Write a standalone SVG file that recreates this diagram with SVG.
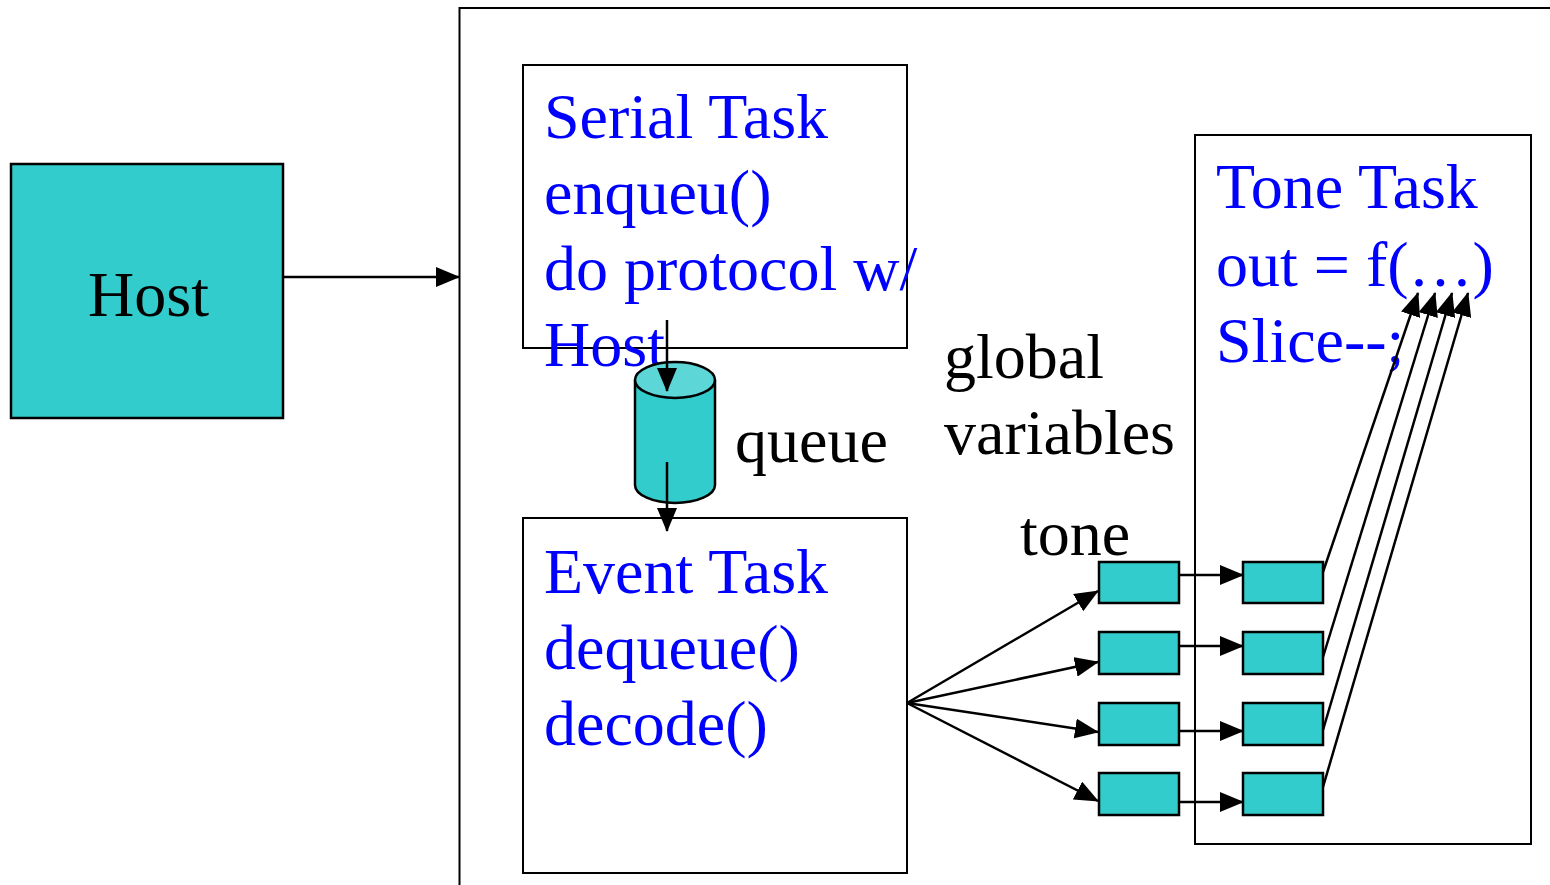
<svg xmlns="http://www.w3.org/2000/svg" width="1550" height="885" viewBox="0 0 1550 885">
<style>
.box{fill:#fff;stroke:#000;stroke-width:2}
.cyan{fill:#33CCCC;stroke:#000;stroke-width:2.5}
.t{font-family:"Liberation Serif",serif;font-size:64px}
.blue{fill:#0000FF}
.conn line{stroke:#000;stroke-width:2.5;marker-end:url(#ah)}
</style>
<defs>
<marker id="ah" markerUnits="userSpaceOnUse" markerWidth="24" markerHeight="20" viewBox="0 0 24 20" refX="23" refY="10" orient="auto">
<path d="M0,0 L24,10 L0,20 Z" fill="#000"/>
</marker>
</defs>
<g id="system"><path d="M459.5,885 V8 H1550" fill="none" stroke="#000" stroke-width="2"/></g>
<g id="host"><rect class="cyan" x="11" y="164" width="272" height="254" stroke-width="2"/><text class="t" x="88" y="316">Host</text></g>
<g id="serial"><rect class="box" x="523" y="65" width="384" height="283"/>
<text class="t blue" x="544" y="138">Serial Task</text>
<text class="t blue" x="544" y="214">enqueu()</text>
<text class="t blue" x="544" y="290">do protocol w/</text>
<text class="t blue" x="544" y="366">Host</text></g>
<g id="event"><rect class="box" x="523" y="518" width="384" height="355"/>
<text class="t blue" x="544" y="593">Event Task</text>
<text class="t blue" x="544" y="669">dequeue()</text>
<text class="t blue" x="544" y="745">decode()</text></g>
<g id="tone-task"><rect class="box" x="1195" y="135" width="336" height="709"/>
<text class="t blue" x="1216" y="208">Tone Task</text>
<text class="t blue" x="1216" y="286">out = f(…)</text>
<text class="t blue" x="1216" y="362">Slice--;</text></g>
<g id="queue">
<path d="M635,380 V485 A40,18 0 0 0 715,485 V380" fill="#33CCCC" stroke="#000" stroke-width="2.5"/>
<ellipse cx="675" cy="380" rx="40" ry="18" fill="#5CD6D6" stroke="#000" stroke-width="2.5"/>
<text class="t" x="735" y="462">queue</text></g>
<g id="globals"><text class="t" x="944" y="378">global</text><text class="t" x="944" y="454">variables</text><text class="t" x="1020" y="555">tone</text></g>
<g id="tone-vars">
<rect class="cyan" x="1099" y="562" width="80" height="41"/>
<rect class="cyan" x="1099" y="632" width="80" height="42"/>
<rect class="cyan" x="1099" y="703" width="80" height="42"/>
<rect class="cyan" x="1099" y="773" width="80" height="42"/>
<rect class="cyan" x="1243" y="562" width="80" height="41"/>
<rect class="cyan" x="1243" y="632" width="80" height="42"/>
<rect class="cyan" x="1243" y="703" width="80" height="42"/>
<rect class="cyan" x="1243" y="773" width="80" height="42"/>
</g>
<g id="connectors" class="conn">
<line x1="283" y1="277" x2="459" y2="277"/>
<line x1="667" y1="320" x2="667" y2="391"/>
<line x1="667" y1="462" x2="667" y2="531"/>
<line x1="907" y1="703" x2="1098" y2="591"/>
<line x1="907" y1="703" x2="1098" y2="662"/>
<line x1="907" y1="703" x2="1098" y2="732"/>
<line x1="907" y1="703" x2="1098" y2="801"/>
<line x1="1179" y1="575" x2="1243" y2="575"/>
<line x1="1179" y1="646" x2="1243" y2="646"/>
<line x1="1179" y1="731" x2="1243" y2="731"/>
<line x1="1179" y1="802" x2="1243" y2="802"/>
<line x1="1323" y1="572" x2="1418" y2="293"/>
<line x1="1323" y1="657" x2="1435" y2="293"/>
<line x1="1323" y1="730" x2="1452" y2="293"/>
<line x1="1323" y1="787" x2="1468" y2="293"/>
</g>
</svg>
